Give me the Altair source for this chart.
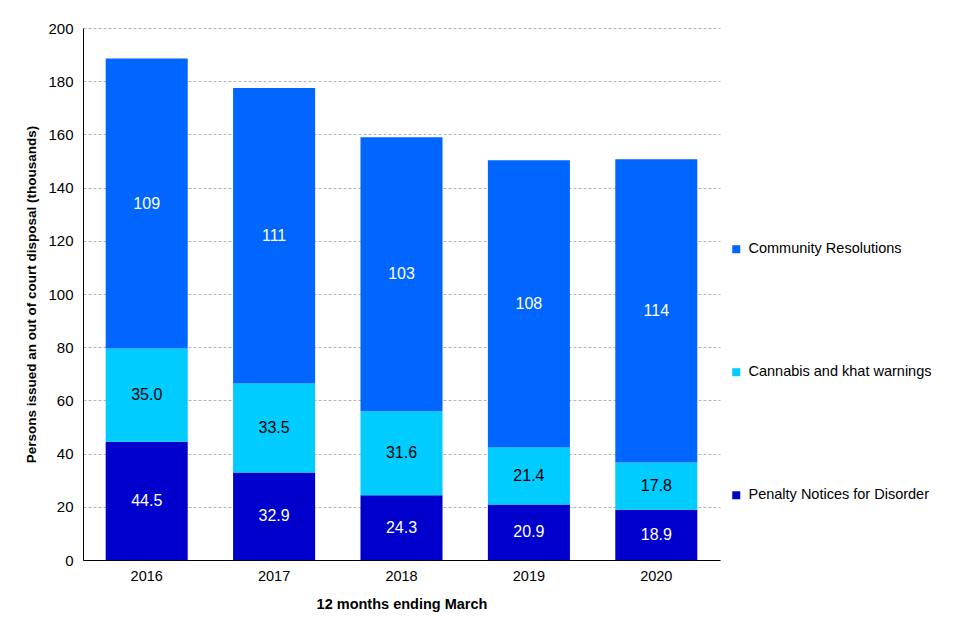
import altair as alt
import pandas as pd

years = ["2016", "2017", "2018", "2019", "2020"]
series = ["Community Resolutions", "Cannabis and khat warnings", "Penalty Notices for Disorder"]
community = [109, 111, 103, 108, 114]
cannabis = [35.0, 33.5, 31.6, 21.4, 17.8]
pnd = [44.5, 32.9, 24.3, 20.9, 18.9]
colors = ["#0066FF", "#00CCFF", "#0000CC"]

rows = []
for i, y in enumerate(years):
    rows.append({"year": y, "series": series[2], "value": pnd[i], "ord": 0})
    rows.append({"year": y, "series": series[1], "value": cannabis[i], "ord": 1})
    rows.append({"year": y, "series": series[0], "value": community[i], "ord": 2})
df = pd.DataFrame(rows)

font = "Liberation Sans"

base = alt.Chart(df)

x_enc = alt.X("year:N", scale=alt.Scale(paddingInner=0.356, paddingOuter=0.178),
              axis=alt.Axis(title="12 months ending March", labelAngle=0, ticks=False,
                            labelPadding=9, titlePadding=15, domainColor="black",
                            labelFontSize=14.5, titleFontSize=14.5, titleFontWeight="bold",
                            labelColor="black", titleColor="black", grid=False))

bars = base.mark_bar().encode(
    x=x_enc,
    y=alt.Y("value:Q", stack="zero", scale=alt.Scale(domain=[0, 200], nice=False),
            axis=alt.Axis(title="Persons issued an out of court disposal (thousands)",
                          values=list(range(0, 201, 20)), ticks=False, labelPadding=10,
                          titlePadding=9, domainColor="black", labelFontSize=15,
                          titleFontSize=13.5, titleFontWeight="bold", labelColor="black",
                          titleColor="black", gridColor="#b4b4b4", gridDash=[3, 2])),
    color=alt.Color("series:N", scale=alt.Scale(domain=series, range=colors),
                    legend=alt.Legend(title=None, orient="none", legendX=646, legendY=214,
                                      symbolType="square", symbolSize=64, rowPadding=108,
                                      labelFontSize=14.5, labelColor="black", labelLimit=300,
                                      labelOffset=5, symbolStrokeWidth=0)),
    order=alt.Order("ord:Q"),
)

labels = base.transform_stack(
    stack="value", as_=["y0", "y1"], groupby=["year"], sort=[alt.SortField("ord")]
).transform_calculate(
    mid="(datum.y0 + datum.y1) / 2",
    lab="datum.value >= 100 ? format(datum.value, 'd') : format(datum.value, '.1f')",
).mark_text(fontSize=16, font=font).encode(
    x="year:N",
    y=alt.Y("mid:Q"),
    text="lab:N",
    color=alt.condition(alt.datum.ord == 1, alt.value("black"), alt.value("white")),
)

chart = alt.layer(bars, labels).properties(
    width=637, height=532,
    autosize=alt.AutoSizeParams(type="none"),
    padding={"left": 75, "top": 20, "right": 230, "bottom": 70},
).configure(font=font).configure_view(stroke=None)

chart.save("out.html", embed_options={"renderer": "svg", "actions": False})
